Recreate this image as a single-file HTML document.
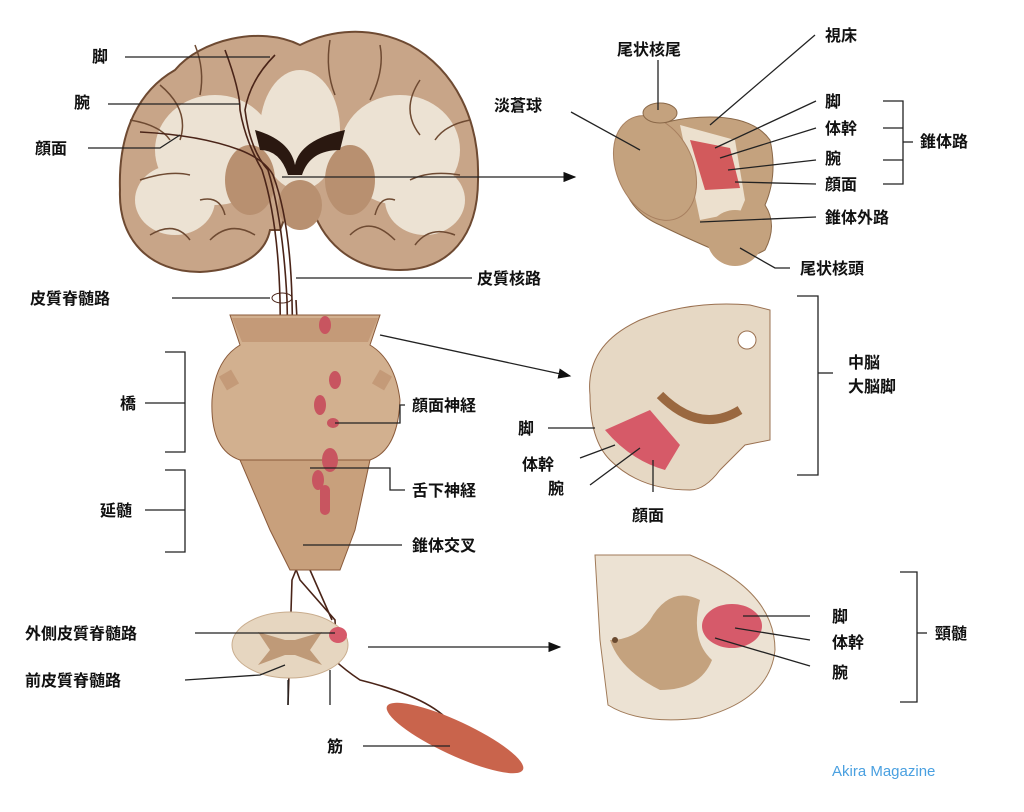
<!DOCTYPE html>
<html><head><meta charset="utf-8"><style>
body{margin:0;background:#fff;width:1024px;height:807px;overflow:hidden}
svg text{font-family:"Liberation Sans","Noto Sans CJK JP",sans-serif;font-weight:bold;font-size:16px;fill:#111}
</style></head><body>
<svg width="1024" height="807" viewBox="0 0 1024 807">
<defs><marker id="a" markerWidth="10" markerHeight="8" refX="9" refY="4" orient="auto"><path d="M0,0L10,4L0,8z" fill="#111"/></marker></defs>
<!-- brain -->
<path d="M300,45 C260,25 200,40 175,70 C140,90 118,130 120,190 C118,240 150,272 200,272 C240,270 265,255 270,230 L280,230 L292,200 L310,200 C320,240 350,270 400,270 C450,270 478,235 478,180 C480,120 455,70 410,45 C370,25 330,30 300,45Z" fill="#c8a588" stroke="#6e4a32" stroke-width="2"/>
<g fill="#ece2d3">
<ellipse cx="215" cy="150" rx="60" ry="55"/><ellipse cx="400" cy="150" rx="60" ry="55"/>
<ellipse cx="300" cy="130" rx="40" ry="60"/>
<ellipse cx="175" cy="200" rx="40" ry="35"/><ellipse cx="425" cy="200" rx="40" ry="35"/>
</g>
<g fill="#b89070"><ellipse cx="250" cy="180" rx="25" ry="35"/><ellipse cx="350" cy="180" rx="25" ry="35"/><ellipse cx="300" cy="205" rx="22" ry="25"/></g>
<path d="M255,130 Q290,140 295,165 Q300,140 345,130 L340,150 Q310,150 302,175 L288,175 Q280,150 260,150Z" fill="#2a1810"/>
<g stroke="#6e4a32" stroke-width="1.5" fill="none">
<path d="M160,85 Q190,110 180,140"/><path d="M420,80 Q400,110 420,135"/><path d="M140,180 Q170,170 190,175"/><path d="M460,175 Q430,170 410,180"/>
<path d="M210,240 Q230,220 255,235"/><path d="M350,235 Q370,215 395,240"/>
<path d="M195,45 Q205,70 200,95"/><path d="M330,40 Q325,70 335,95"/><path d="M380,45 Q385,70 370,100"/><path d="M130,120 Q160,125 170,140"/>
<path d="M470,120 Q445,125 435,140"/><path d="M150,235 Q175,220 190,240"/><path d="M415,245 Q430,225 455,235"/><path d="M200,200 Q220,195 225,215"/><path d="M395,200 Q380,195 375,215"/>
</g>
<!-- tracts -->
<g stroke="#4a2418" stroke-width="1.6" fill="none">
<path d="M225,50 Q240,90 240,110 Q245,140 262,170 Q278,220 280,300 L282,450 L285,540 L300,580 L335,620 L336,640"/>
<path d="M275,55 Q250,80 245,110 Q250,150 268,170 Q283,220 287,300 L290,450 L292,540 L310,570 L332,620"/>
<path d="M140,132 Q200,135 240,150 Q265,160 273,175 Q290,220 292,300 L295,450 L300,560 L292,580 L288,705"/>
<path d="M296,300 L300,380 Q305,420 335,425"/>
<path d="M318,640 Q330,660 360,680 Q440,700 455,730"/>
</g>
<ellipse cx="282" cy="298" rx="10" ry="5" fill="none" stroke="#4a2418"/>
<!-- pons -->
<path d="M230,315 L380,315 L370,345 Q395,360 400,400 Q398,450 370,460 L240,460 Q210,450 212,400 Q215,360 240,345Z" fill="#d2b08f" stroke="#8a5a3a"/>
<path d="M232,318 L378,318 L368,342 L242,342Z" fill="#c49a78"/>
<path d="M240,460 L370,460 L355,530 L340,570 L290,570 L270,530Z" fill="#c8a07c" stroke="#8a5a3a"/>
<g fill="#c85560"><ellipse cx="325" cy="325" rx="6" ry="9"/><ellipse cx="335" cy="380" rx="6" ry="9"/><ellipse cx="320" cy="405" rx="6" ry="10"/><ellipse cx="333" cy="423" rx="6" ry="5"/><ellipse cx="330" cy="460" rx="8" ry="12"/><ellipse cx="318" cy="480" rx="6" ry="10"/><rect x="320" y="485" width="10" height="30" rx="5"/></g>
<rect x="222" y="372" width="14" height="16" fill="#c49a78" transform="rotate(-30 229 380)"/><rect x="375" y="372" width="14" height="16" fill="#c49a78" transform="rotate(30 382 380)"/>
<!-- cord section -->
<ellipse cx="290" cy="645" rx="58" ry="33" fill="#e6d6c0" stroke="#c9ad8e"/>
<path d="M258,632 L285,640 L295,640 L322,632 L310,650 L322,665 L295,655 L285,655 L258,665 L270,650Z" fill="#bf9a78"/>
<ellipse cx="338" cy="635" rx="9" ry="8" fill="#d65a6a"/>
<!-- muscle -->
<ellipse cx="455" cy="738" rx="75" ry="17" fill="#c9644c" transform="rotate(25 455 738)"/>
<!-- right: basal ganglia -->
<path d="M690,118 Q750,112 770,140 Q778,175 765,205 Q778,225 765,250 Q740,265 710,248 Q680,235 660,225 Q625,210 620,170 Q625,125 690,118Z" fill="#c4a27e" stroke="#8a6848"/>
<path d="M680,125 L735,140 L745,200 L740,212 L700,220 Z" fill="#ece0ce"/>
<path d="M690,140 L730,148 L740,188 L705,190Z" fill="#d25a5c"/>
<ellipse cx="655" cy="168" rx="38" ry="55" fill="#c4a27e" stroke="#a88060" transform="rotate(-25 655 168)"/>
<circle cx="735" cy="238" r="28" fill="#c4a27e"/>
<ellipse cx="660" cy="113" rx="17" ry="10" fill="#c4a27e" stroke="#8a6848"/>
<!-- midbrain -->
<path d="M590,395 Q585,345 640,320 Q690,300 750,305 L770,310 L770,440 L745,445 L720,470 Q705,490 690,490 Q640,490 610,460 Q590,440 590,395Z" fill="#e6d8c4" stroke="#9a7050"/>
<circle cx="747" cy="340" r="9" fill="#fff" stroke="#9a7050"/>
<path d="M660,395 Q700,435 740,410" stroke="#9a6840" stroke-width="9" fill="none"/>
<path d="M605,430 L650,410 L680,445 L665,470 Q630,460 605,430Z" fill="#d65a68"/>
<!-- spinal cord right -->
<path d="M595,555 L690,555 Q775,590 775,650 Q770,700 700,718 Q640,725 608,705 L600,640 Z" fill="#ece2d3" stroke="#a07a58"/>
<path d="M650,620 Q670,585 700,600 Q690,640 712,660 Q700,690 660,690 Q620,670 610,640 Q635,640 650,620Z" fill="#c4a27e"/>
<ellipse cx="732" cy="626" rx="30" ry="22" fill="#d65a6a"/>
<circle cx="615" cy="640" r="3" fill="#6a4a30"/>
<!-- leader lines -->
<g stroke="#222" stroke-width="1.3" fill="none">
<path d="M125,57 L270,57"/><path d="M108,104 L240,104"/><path d="M88,148 L160,148 L180,135"/>
<path d="M282,177 L575,177" marker-end="url(#a)"/><path d="M296,278 L472,278"/><path d="M172,298 L270,298"/>
<path d="M380,335 L570,376" marker-end="url(#a)"/><path d="M335,423 L400,423 L400,405 L405,405"/>
<path d="M310,468 L390,468 L390,490 L405,490"/><path d="M303,545 L402,545"/>
<path d="M195,633 L335,633"/><path d="M185,680 L260,675 L285,665"/>
<path d="M368,647 L560,647" marker-end="url(#a)"/><path d="M363,746 L450,746"/>
<path d="M165,352 L185,352 L185,452 L165,452"/><path d="M185,403 L145,403"/>
<path d="M165,470 L185,470 L185,552 L165,552"/><path d="M185,510 L145,510"/>
<path d="M571,112 L640,150"/><path d="M658,60 L658,110"/><path d="M815,35 L710,125"/>
<path d="M816,101 L715,148"/><path d="M816,128 L720,158"/><path d="M816,160 L728,170"/><path d="M816,184 L735,182"/>
<path d="M816,217 L700,222"/><path d="M790,268 L775,268 L740,248"/>
<path d="M883,101 L903,101 L903,184 L883,184"/><path d="M883,128 L903,128"/><path d="M883,160 L903,160"/><path d="M903,142 L913,142"/>
<path d="M797,296 L818,296 L818,475 L797,475"/><path d="M818,373 L833,373"/>
<path d="M548,428 L595,428"/><path d="M580,458 L615,445"/><path d="M590,485 L640,448"/><path d="M653,492 L653,460"/>
<path d="M743,616 L810,616"/><path d="M735,628 L810,640"/><path d="M715,638 L810,666"/>
<path d="M900,572 L917,572 L917,702 L900,702"/><path d="M917,633 L927,633"/>
<path d="M288,680 L288,705"/><path d="M330,670 L330,705"/>
</g>
<!-- labels -->
<text x="92" y="62">脚</text><text x="74" y="108">腕</text><text x="35" y="154">顔面</text>
<text x="477" y="284">皮質核路</text><text x="30" y="304">皮質脊髄路</text>
<text x="120" y="409">橋</text><text x="100" y="516">延髄</text>
<text x="412" y="411">顔面神経</text><text x="412" y="496">舌下神経</text><text x="412" y="551">錐体交叉</text>
<text x="25" y="639">外側皮質脊髄路</text><text x="25" y="686">前皮質脊髄路</text><text x="327" y="752">筋</text>
<text x="617" y="55">尾状核尾</text><text x="825" y="41">視床</text><text x="494" y="111">淡蒼球</text>
<text x="825" y="107">脚</text><text x="825" y="134">体幹</text><text x="825" y="164">腕</text><text x="825" y="190">顔面</text>
<text x="920" y="147">錐体路</text><text x="825" y="223">錐体外路</text><text x="800" y="274">尾状核頭</text>
<text x="848" y="368">中脳</text><text x="848" y="392">大脳脚</text>
<text x="518" y="434">脚</text><text x="522" y="470">体幹</text><text x="548" y="494">腕</text><text x="632" y="521">顔面</text>
<text x="832" y="622">脚</text><text x="832" y="648">体幹</text><text x="832" y="678">腕</text><text x="935" y="639">頸髄</text>
<text x="832" y="776" style="font-weight:normal;fill:#4aa0e0;font-size:15px">Akira Magazine</text>
</svg>
</body></html>
